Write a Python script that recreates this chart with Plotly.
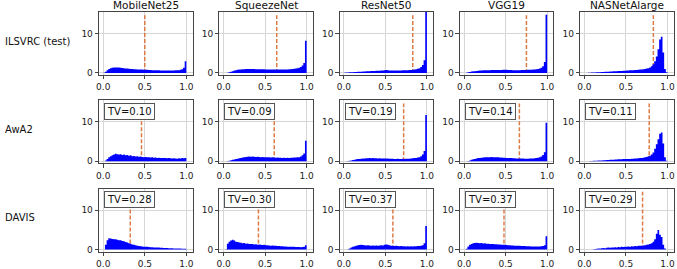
import plotly.graph_objects as go

# ---------------- data ----------------
ROW_LABELS = ["ILSVRC (test)", "AwA2", "DAVIS"]
MODELS = ["MobileNet25", "SqueezeNet", "ResNet50", "VGG19", "NASNetAlarge"]
BIN_WIDTH = 0.02  # histogram bins on [0, 1]
X_TICKS = [0.0, 0.5, 1.0]
X_TICK_TEXT = ["0.0", "0.5", "1.0"]
Y_TICKS = [0, 10]
Y_TICK_TEXT = ["0", "10"]

# dashed threshold (mean confidence) per row / model
THRESH_ILSVRC = [0.50, 0.64, 0.83, 0.75, 0.83]
THRESH_AWA2 = [0.46, 0.61, 0.72, 0.665, 0.78]
THRESH_DAVIS = [0.325, 0.42, 0.59, 0.48, 0.70]

TV_AWA2 = ["0.10", "0.09", "0.19", "0.14", "0.11"]
TV_DAVIS = ["0.28", "0.30", "0.37", "0.37", "0.29"]

# density histograms, 50 bins of width 0.02
ilsvrc_mobilenet25 = [0.05, 0.3, 0.7, 1.0, 1.2, 1.3, 1.4, 1.4, 1.4, 1.35,
                      1.3, 1.25, 1.2, 1.15, 1.1, 1.05, 1.0, 1.0, 0.95, 0.95,
                      0.9, 0.9, 0.85, 0.85, 0.8, 0.8, 0.78, 0.75, 0.72, 0.7,
                      0.7, 0.68, 0.65, 0.65, 0.62, 0.62, 0.6, 0.6, 0.6, 0.6,
                      0.6, 0.62, 0.62, 0.65, 0.68, 0.7, 0.8, 0.95, 1.3, 3.0]
ilsvrc_squeezenet = [0.0, 0.0, 0.05, 0.15, 0.3, 0.45, 0.6, 0.7, 0.8, 0.85,
                     0.9, 0.95, 0.95, 1.0, 1.0, 1.0, 1.0, 1.0, 1.0, 0.95,
                     0.95, 0.95, 0.95, 0.95, 0.95, 0.9, 0.9, 0.9, 0.9, 0.85,
                     0.85, 0.85, 0.85, 0.85, 0.85, 0.85, 0.85, 0.9, 0.9, 0.95,
                     0.95, 1.0, 1.05, 1.1, 1.2, 1.3, 1.5, 1.9, 2.5, 8.2]
ilsvrc_resnet50 = [0.05, 0.1, 0.12, 0.15, 0.18, 0.2, 0.22, 0.25, 0.28, 0.3,
                   0.32, 0.35, 0.38, 0.4, 0.42, 0.45, 0.47, 0.5, 0.52, 0.55,
                   0.55, 0.58, 0.6, 0.62, 0.7, 0.75, 0.65, 0.62, 0.62, 0.6,
                   0.6, 0.6, 0.6, 0.62, 0.62, 0.65, 0.65, 0.68, 0.7, 0.72,
                   0.75, 0.8, 0.85, 0.95, 1.05, 1.2, 1.5, 2.0, 3.2, 17.0]
ilsvrc_vgg19 = [0.0, 0.05, 0.15, 0.25, 0.35, 0.4, 0.45, 0.5, 0.55, 0.6,
                0.6, 0.65, 0.65, 0.7, 0.7, 0.7, 0.72, 0.72, 0.75, 0.75,
                0.75, 0.75, 0.75, 0.78, 0.8, 0.8, 0.75, 0.72, 0.72, 0.7,
                0.7, 0.7, 0.7, 0.7, 0.72, 0.72, 0.75, 0.75, 0.78, 0.8,
                0.82, 0.85, 0.9, 0.95, 1.0, 1.1, 1.3, 1.7, 2.8, 14.8]
ilsvrc_nasnet = [0.0, 0.0, 0.02, 0.05, 0.08, 0.1, 0.12, 0.15, 0.18, 0.2,
                 0.22, 0.25, 0.28, 0.3, 0.32, 0.35, 0.38, 0.4, 0.42, 0.45,
                 0.48, 0.5, 0.52, 0.55, 0.58, 0.6, 0.62, 0.65, 0.68, 0.7,
                 0.72, 0.75, 0.8, 0.85, 0.9, 0.95, 1.0, 1.1, 1.2, 1.4,
                 1.7, 2.2, 3.0, 4.2, 6.0, 8.5, 9.2, 5.2, 1.0, 0.15]

awa2_mobilenet25 = [0.0, 0.2, 0.6, 1.0, 1.3, 1.5, 1.7, 1.9, 1.8, 1.7,
                    1.8, 1.6, 1.7, 1.5, 1.6, 1.4, 1.5, 1.3, 1.35, 1.2,
                    1.25, 1.15, 1.2, 1.1, 1.05, 1.1, 1.0, 1.05, 0.95, 1.0,
                    0.9, 0.95, 0.85, 0.9, 0.85, 0.8, 0.85, 0.8, 0.75, 0.8,
                    0.75, 0.7, 0.75, 0.7, 0.65, 0.75, 0.7, 0.8, 0.75, 0.85]
awa2_squeezenet = [0.0, 0.0, 0.05, 0.15, 0.25, 0.35, 0.45, 0.55, 0.65, 0.75,
                   0.85, 0.95, 1.05, 1.1, 1.15, 1.2, 1.15, 1.2, 1.15, 1.1,
                   1.15, 1.1, 1.05, 1.1, 1.05, 1.0, 1.05, 1.0, 0.95, 1.0,
                   0.95, 0.9, 0.95, 0.9, 0.9, 0.85, 0.9, 0.85, 0.9, 0.85,
                   0.9, 0.9, 0.95, 0.95, 1.0, 1.05, 1.2, 1.5, 2.0, 5.2]
awa2_resnet50 = [0.0, 0.02, 0.05, 0.1, 0.2, 0.3, 0.4, 0.5, 0.55, 0.6,
                 0.65, 0.7, 0.7, 0.75, 0.75, 0.8, 0.75, 0.8, 0.75, 0.75,
                 0.7, 0.75, 0.7, 0.7, 0.72, 0.7, 0.68, 0.65, 0.65, 0.62,
                 0.6, 0.6, 0.62, 0.6, 0.6, 0.62, 0.6, 0.62, 0.65, 0.65,
                 0.7, 0.75, 0.8, 0.85, 0.95, 1.05, 1.3, 1.7, 2.6, 11.8]
awa2_vgg19 = [0.0, 0.02, 0.08, 0.2, 0.35, 0.5, 0.6, 0.7, 0.8, 0.85,
              0.9, 0.95, 1.0, 1.0, 1.05, 1.05, 1.1, 1.05, 1.05, 1.0,
              1.0, 0.95, 0.95, 0.9, 0.9, 0.85, 0.85, 0.8, 0.8, 0.75,
              0.75, 0.72, 0.7, 0.7, 0.68, 0.68, 0.65, 0.65, 0.65, 0.68,
              0.7, 0.72, 0.75, 0.8, 0.9, 1.0, 1.2, 1.6, 2.3, 9.8]
awa2_nasnet = [0.0, 0.0, 0.02, 0.05, 0.08, 0.1, 0.12, 0.15, 0.18, 0.2,
               0.22, 0.25, 0.28, 0.3, 0.32, 0.35, 0.38, 0.4, 0.42, 0.45,
               0.48, 0.5, 0.52, 0.55, 0.55, 0.58, 0.6, 0.6, 0.62, 0.65,
               0.68, 0.7, 0.75, 0.8, 0.85, 0.9, 1.0, 1.1, 1.25, 1.4,
               1.7, 2.2, 3.2, 4.3, 5.6, 7.0, 7.3, 4.5, 1.0, 0.1]

davis_mobilenet25 = [0.0, 1.2, 2.4, 2.9, 2.8, 2.7, 2.6, 2.65, 2.5, 2.4,
                     2.4, 2.2, 2.1, 1.9, 1.8, 1.6, 1.5, 1.3, 1.2, 1.1,
                     1.0, 0.9, 0.85, 0.8, 0.75, 0.7, 0.7, 0.65, 0.6, 0.6,
                     0.55, 0.55, 0.5, 0.5, 0.45, 0.45, 0.4, 0.4, 0.38, 0.35,
                     0.35, 0.32, 0.3, 0.3, 0.28, 0.25, 0.25, 0.22, 0.2, 0.2]
davis_squeezenet = [0.0, 0.1, 1.5, 2.0, 2.3, 2.5, 2.3, 2.0, 1.9, 1.8,
                    1.75, 1.6, 1.65, 1.5, 1.55, 1.45, 1.4, 1.45, 1.3, 1.35,
                    1.25, 1.3, 1.2, 1.15, 1.2, 1.1, 1.1, 1.05, 1.0, 1.05,
                    0.95, 0.95, 0.9, 0.9, 0.85, 0.85, 0.8, 0.8, 0.75, 0.75,
                    0.72, 0.7, 0.7, 0.68, 0.65, 0.65, 0.62, 0.65, 0.7, 1.1]
davis_resnet50 = [0.0, 0.02, 0.1, 0.3, 0.5, 0.7, 0.85, 1.0, 1.1, 1.15,
                  1.2, 1.15, 1.1, 1.05, 1.1, 1.05, 1.0, 1.05, 1.0, 1.05,
                  1.0, 1.05, 1.1, 1.05, 1.2, 1.3, 1.2, 1.1, 1.0, 0.95,
                  0.9, 0.95, 0.9, 0.85, 0.9, 0.85, 0.85, 0.8, 0.85, 0.8,
                  0.85, 0.8, 0.85, 0.85, 0.9, 0.9, 0.95, 1.1, 1.6, 6.0]
davis_vgg19 = [0.0, 0.2, 0.8, 1.2, 1.4, 1.6, 1.7, 1.75, 1.7, 1.6,
               1.65, 1.55, 1.6, 1.5, 1.5, 1.45, 1.4, 1.45, 1.35, 1.35,
               1.3, 1.3, 1.25, 1.2, 1.2, 1.15, 1.1, 1.1, 1.05, 1.05,
               1.0, 1.0, 0.95, 0.95, 0.9, 0.9, 0.88, 0.85, 0.85, 0.82,
               0.8, 0.8, 0.8, 0.8, 0.8, 0.8, 0.85, 0.9, 1.1, 3.4]
davis_nasnet = [0.0, 0.0, 0.0, 0.02, 0.05, 0.1, 0.15, 0.2, 0.25, 0.3,
                0.35, 0.4, 0.35, 0.45, 0.5, 0.45, 0.55, 0.5, 0.6, 0.55,
                0.65, 0.6, 0.7, 0.65, 0.75, 0.7, 0.8, 0.75, 0.85, 0.8,
                0.9, 0.85, 0.95, 1.0, 0.95, 1.05, 1.1, 1.2, 1.3, 1.4,
                1.6, 2.0, 2.6, 4.0, 5.0, 3.8, 3.2, 1.2, 0.3, 0.05]

HISTS = [
    [ilsvrc_mobilenet25, ilsvrc_squeezenet, ilsvrc_resnet50, ilsvrc_vgg19, ilsvrc_nasnet],
    [awa2_mobilenet25, awa2_squeezenet, awa2_resnet50, awa2_vgg19, awa2_nasnet],
    [davis_mobilenet25, davis_squeezenet, davis_resnet50, davis_vgg19, davis_nasnet],
]
THRESH = [THRESH_ILSVRC, THRESH_AWA2, THRESH_DAVIS]
TV = [None, TV_AWA2, TV_DAVIS]

# ---------------- layout geometry (pixels) ----------------
W, H = 677, 269
PANEL_LEFT0, PANEL_PITCH_X, PANEL_W = 96.7, 121.0, 94.0
PANEL_TOP0, PANEL_PITCH_Y, PANEL_H = 12.3, 90.0, 64.0
FONT = "DejaVu Sans"
HIST_COLOR = "#0000ff"
LINE_COLOR = "#dd7a44"
AX_COLOR = "#444444"
GRID_COLOR = "#d6d6d6"

fig = go.Figure()
annotations = []
layout_axes = {}

for r in range(3):
    for c in range(5):
        idx = r * 5 + c + 1
        sfx = "" if idx == 1 else str(idx)
        xname, yname = "x" + sfx, "y" + sfx
        left = PANEL_LEFT0 + PANEL_PITCH_X * c
        top = PANEL_TOP0 + PANEL_PITCH_Y * r
        xdom = [left / W, (left + PANEL_W) / W]
        ydom = [1 - (top + PANEL_H) / H, 1 - top / H]

        common = dict(
            showline=True, linecolor=AX_COLOR, linewidth=1, mirror=True,
            ticks="outside", ticklen=3.5, tickwidth=1, tickcolor=AX_COLOR,
            showgrid=True, gridcolor=GRID_COLOR, gridwidth=1, zeroline=False,
            tickfont=dict(family=FONT, size=9, color="#222222"),
        )
        layout_axes["xaxis" + sfx] = dict(
            domain=xdom, anchor=yname, range=[-0.05, 1.075],
            tickvals=X_TICKS, ticktext=X_TICK_TEXT, **common)
        layout_axes["yaxis" + sfx] = dict(
            domain=ydom, anchor=xname, range=[-0.5, 15.5],
            tickvals=Y_TICKS, ticktext=Y_TICK_TEXT, **common)

        # dashed mean line (drawn first so the histogram covers it)
        t = THRESH[r][c]
        fig.add_trace(go.Scatter(
            x=[t, t], y=[0, 14.7], mode="lines", xaxis=xname, yaxis=yname,
            line=dict(color=LINE_COLOR, width=1.5, dash="4px,2px"),
            showlegend=False, hoverinfo="skip"))

        vals = HISTS[r][c]
        n = len(vals)
        xs = [i * BIN_WIDTH for i in range(n)] + [n * BIN_WIDTH]
        ys = list(vals) + [vals[-1]]
        fig.add_trace(go.Scatter(
            x=xs, y=ys, mode="lines", line_shape="hv", xaxis=xname, yaxis=yname,
            line=dict(color=HIST_COLOR, width=0), fill="tozeroy",
            fillcolor=HIST_COLOR, showlegend=False, hoverinfo="skip"))

        if TV[r] is not None:
            annotations.append(dict(
                xref=xname + " domain", yref=yname + " domain",
                x=0.053, y=0.966, xanchor="left", yanchor="top",
                text="TV=" + TV[r][c], showarrow=False,
                font=dict(family=FONT, size=10, color="#111111"),
                bgcolor="white", bordercolor="#555555", borderwidth=1, borderpad=2))

        if r == 0:
            annotations.append(dict(
                xref="paper", yref="paper", x=(left + PANEL_W / 2) / W,
                y=1 - 4.6 / H, xanchor="center", yanchor="middle",
                text=MODELS[c], showarrow=False,
                font=dict(family=FONT, size=10.5, color="#111111")))

    annotations.append(dict(
        xref="paper", yref="paper", x=0, y=1 - (PANEL_TOP0 + PANEL_PITCH_Y * r + PANEL_H / 2 - 2.5) / H,
        xanchor="left", yanchor="middle", text=ROW_LABELS[r], showarrow=False,
        font=dict(family=FONT, size=10, color="#111111")))

fig.update_layout(
    width=W, height=H, margin=dict(l=0, r=0, t=0, b=0),
    paper_bgcolor="white", plot_bgcolor="white",
    font=dict(family=FONT, size=10, color="#111111"),
    showlegend=False, annotations=annotations, **layout_axes)

fig.write_html(
    "out.html",
    config={"displayModeBar": False, "staticPlot": True},
    post_script="document.body.style.margin='0px';document.body.style.overflow='hidden';")
